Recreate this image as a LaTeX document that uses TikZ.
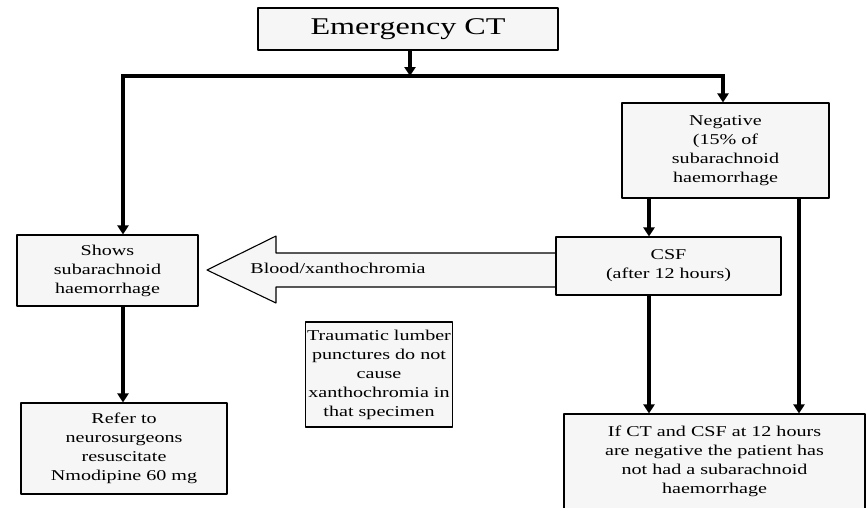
\documentclass[tikz,border=0pt]{standalone}
\usepackage{fontspec}
\setmainfont{Liberation Serif}[FakeStretch=1.34]
\usetikzlibrary{arrows.meta,calc}

\begin{document}
\begin{tikzpicture}[x=1pt, y=-1pt, line join=round,
	box/.style={draw, line width=1.1pt, fill=gray!7, align=center, inner sep=2pt,
		font=\fontsize{15}{19}\selectfont},
	flow/.style={line width=3.2pt, -{Triangle[length=9pt,width=11pt]}},
	bar/.style={line width=3.2pt}]
	\useasboundingbox (0,0) rectangle (867,507);
	\clip (0,0) rectangle (867,507);
	% boxes
	\node[box, minimum width=300, minimum height=42, font=\fontsize{24}{28}\selectfont] (ct) at (408,29) {Emergency CT};
	\node[box, minimum width=207, minimum height=95] (neg) at (725.5,150.5) {Negative\\(15\% of\\subarachnoid\\haemorrhage};
	\node[box, minimum width=181, minimum height=71] (shows) at (107.5,270.5) {Shows\\subarachnoid\\haemorrhage};
	\node[box, minimum width=206, minimum height=91] (refer) at (124,448.5) {Refer to\\neurosurgeons\\resuscitate\\Nmodipine 60 mg};
	\node[box, minimum width=140, minimum height=105] (trauma) at (379,374.5) {Traumatic lumber\\punctures do not\\cause\\xanthochromia in\\that specimen};
	\node[box, minimum width=301, minimum height=95] (final) at (714.5,461.5) {If CT and CSF at 12 hours\\are negative the patient has\\not had a subarachnoid\\haemorrhage};
	% fat arrow csf -> shows
	\coordinate (tip) at (207,270);
	\draw[fill=gray!7, line width=1.1pt] (tip) -- (276,236) -- (276,253) -- (557,253)
		-- (557,287) -- (276,287) -- (276,303) -- cycle;
	\node[font=\fontsize{15}{19}\selectfont] (blood) at (338,268) {Blood/xanthochromia};
	\node[box, minimum width=225, minimum height=58] (csf) at (668.5,266) {CSF\\(after 12 hours)};
	% connectors
	\coordinate (hl) at (123,76);
	\coordinate (hr) at (723,76);
	\coordinate (a) at (649,0);
	\coordinate (b) at (799,0);
	\draw[flow] (ct.south -| 410,0) -- (410,76);
	\draw[bar, line cap=rect] (hl) -- (hr);
	\draw[flow] (hl) -- (shows.north -| hl);
	\draw[flow] (hr) -- (neg.north -| hr);
	\draw[flow] (neg.south -| a) -- (csf.north -| a);
	\draw[flow] (csf.south -| a) -- (final.north -| a);
	\draw[flow] (neg.south -| b) -- (final.north -| b);
	\draw[flow] (shows.south -| hl) -- (refer.north -| hl);
\end{tikzpicture}
\end{document}
